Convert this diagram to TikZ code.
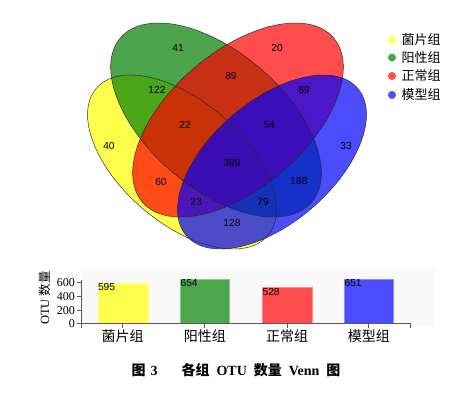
\documentclass[tikz,border=0pt]{standalone}
\usepackage{fontspec}
\setmainfont{Liberation Sans}
\newfontfamily\serif{Liberation Serif}
\newfontfamily\cjk{Noto Sans CJK SC}
\definecolor{vy}{RGB}{255,255,0}
\definecolor{vg}{RGB}{0,128,0}
\definecolor{vr}{RGB}{255,0,0}
\definecolor{vb}{RGB}{0,0,255}
\definecolor{axisgray}{RGB}{90,90,90}
\begin{document}
\begin{tikzpicture}[x=1pt,y=-1pt,
  vfill/.style={fill=#1, fill opacity=0.7},
  vline/.style={draw=black!85, line width=0.45pt},
  num/.style={font=\fontsize{10.2}{11}\selectfont, inner sep=0pt},
  leg/.style={font=\cjk\fontsize{13}{14}\selectfont, anchor=west, inner sep=0pt},
  dot/.style={fill=#1!70!white},
  bar/.style={fill=#1!70!white, draw=#1!45!white, line width=0.4pt},
  barnum/.style={font=\fontsize{10.2}{11}\selectfont, anchor=north west, inner sep=0.3pt},
  tick/.style={font=\serif\fontsize{12}{12}\selectfont, anchor=east, inner sep=0pt},
  xlab/.style={font=\cjk\fontsize{14}{15}\selectfont, inner sep=0pt},
  axis/.style={draw=axisgray, line width=0.8pt}
]
\useasboundingbox (0,0) rectangle (469,405);
\fill[white] (0,0) rectangle (469,405);

% ---- Venn fills ----
\fill[vfill=vy, shift={(182,162)}, rotate=-40.7] (0,0) ellipse [x radius=113pt, y radius=61pt];
\fill[vfill=vg, shift={(216,120)}, rotate=-40.7] (0,0) ellipse [x radius=126pt, y radius=68pt];
\fill[vfill=vr, shift={(238,120)}, rotate=40.7] (0,0) ellipse [x radius=126pt, y radius=68pt];
\fill[vfill=vb, shift={(272,162)}, rotate=40.7] (0,0) ellipse [x radius=113pt, y radius=61pt];
% ---- Venn outlines ----
\draw[vline, shift={(182,162)}, rotate=-40.7] (0,0) ellipse [x radius=113pt, y radius=61pt];
\draw[vline, shift={(216,120)}, rotate=-40.7] (0,0) ellipse [x radius=126pt, y radius=68pt];
\draw[vline, shift={(238,120)}, rotate=40.7] (0,0) ellipse [x radius=126pt, y radius=68pt];
\draw[vline, shift={(272,162)}, rotate=40.7] (0,0) ellipse [x radius=113pt, y radius=61pt];

% ---- Venn numbers ----
\node[num] (n41) at (178,48) {41};
\node[num] (n20) at (277,48) {20};
\node[num] (n89a) at (231,76) {89};
\node[num] (n122) at (157,90) {122};
\node[num] (n89b) at (304,90) {89};
\node[num] (n40) at (109,146) {40};
\node[num] (n22) at (185,125) {22};
\node[num] (n54) at (269,125) {54};
\node[num] (n33) at (346,146) {33};
\node[num] (n389) at (232,163) {389};
\node[num] (n60) at (161,182) {60};
\node[num] (n188) at (299,181) {188};
\node[num] (n23) at (196,202) {23};
\node[num] (n79) at (263,202) {79};
\node[num] (n128) at (232,223) {128};

% ---- Legend ----
\fill[dot=vy] (392,40) circle (4pt);
\fill[dot=vg] (392,57.5) circle (4pt);
\fill[dot=vr] (392,76) circle (4pt);
\fill[dot=vb] (392,95) circle (4pt);
\node[leg] (l1) at (401.5,40) {菌片组};
\node[leg] (l2) at (401.5,57.5) {阳性组};
\node[leg] (l3) at (401.5,76) {正常组};
\node[leg] (l4) at (401.5,95) {模型组};

% ---- Bar chart ----
\fill[black!2.5] (82,270) rectangle (435,327);
\draw[bar=vy] (97.7,323.3) rectangle (147.7,283.0);
\draw[bar=vg] (180.3,323.3) rectangle (229.3,279.0);
\draw[bar=vr] (262.3,323.3) rectangle (311.7,287.6);
\draw[bar=vb] (344.3,323.3) rectangle (393.3,279.2);
\node[barnum] (b1) at (97.5,283.0) {595};
\node[barnum] (b2) at (180.1,279.0) {654};
\node[barnum] (b3) at (262.1,287.6) {528};
\node[barnum] (b4) at (344.1,279.2) {651};
% axes
\draw[axis] (81.5,280) -- (81.5,328);
\draw[axis] (81.5,323.3) -- (410,323.3);
\foreach \yy in {282.7,296.2,310.2,323.3} \draw[axis] (76.5,\yy) -- (81.5,\yy);
\foreach \xx in {122.7,204.8,287,368.8,410} \draw[axis] (\xx,323.3) -- (\xx,328);
\node[tick] (t600) at (75,282.7) {600};
\node[tick] (t400) at (75,296.2) {400};
\node[tick] (t200) at (75,310.2) {200};
\node[tick] (t0) at (75,323.3) {0};
\node[rotate=90, inner sep=0pt] (ylab) at (44.5,298) {{\serif\fontsize{12.5}{12}\selectfont OTU} {\cjk\fontsize{12.5}{12}\selectfont 数量}};
\node[xlab] (x1) at (122.7,336) {菌片组};
\node[xlab] (x2) at (204.8,336) {阳性组};
\node[xlab] (x3) at (287,336) {正常组};
\node[xlab] (x4) at (368.8,336) {模型组};

% ---- Caption ----
\node[inner sep=0pt] (cap) at (236,370) {\fontsize{14}{15}\selectfont{\cjk\bfseries 图}\hspace{5pt}{\serif\bfseries 3}\hspace{24pt}{\cjk\bfseries 各组}\hspace{7pt}{\serif\bfseries OTU}\hspace{7pt}{\cjk\bfseries 数量}\hspace{7pt}{\serif\bfseries Venn}\hspace{7pt}{\cjk\bfseries 图}};
\end{tikzpicture}
\end{document}
